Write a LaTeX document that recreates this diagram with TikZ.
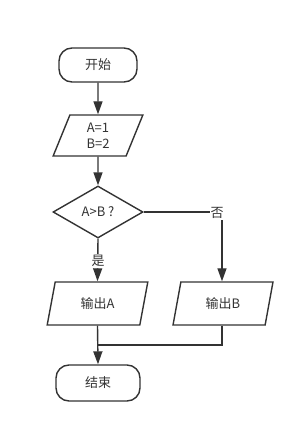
\documentclass[tikz,border=0pt]{standalone}
\usepackage{fontspec}
\setmainfont{Noto Sans CJK SC}
\usetikzlibrary{shapes.geometric,arrows.meta}
\definecolor{ln}{HTML}{333333}
\begin{document}
\begin{tikzpicture}[x=1pt,y=-1pt,
  every node/.style={font=\fontsize{13}{15}\selectfont, text=ln},
  base/.style={draw=ln, line width=1.4pt},
  term/.style={base, rectangle, rounded corners=13pt, inner sep=0pt},
  io/.style={base, trapezium, trapezium left angle=75, trapezium right angle=105,
     trapezium stretches=true, inner sep=0pt},
  dec/.style={base, diamond, inner sep=0pt, minimum width=90pt, minimum height=52pt},
  conn/.style={draw=ln, line width=1.4pt},
  arr/.style={conn, -{Triangle[width=9pt,length=13pt]}},
  lab/.style={fill=white, inner sep=1pt}
]
\useasboundingbox (0,0) rectangle (304,434);
\node[term, minimum width=78pt, minimum height=34pt] (start) at (98,65) {开始};
\node[io, minimum width=90pt, minimum height=41pt, align=center, font=\fontsize{13}{16}\selectfont] (init) at (98,135.5) {A=1\\B=2};
\node[dec] (cmp) at (98,212) {A>B ?};
\node[io, minimum width=101pt, minimum height=43pt] (outa) at (97.5,303.5) {输出A};
\node[io, minimum width=100pt, minimum height=43pt] (outb) at (223,303.5) {输出B};
\node[term, minimum width=84pt, minimum height=36pt] (stop) at (98,383) {结束};
\coordinate (corner) at (222,212);
\coordinate (join) at (98,345);

\draw[arr] (start) -- (init);
\draw[arr] (init) -- (cmp);
\draw[arr] (cmp.east) -- (corner) -- (outb.north -| corner);
\node[lab] (no) at (217,213) {否};
\draw[arr] (cmp.south) -- (outa.north);
\node[lab] (yes) at (98,261) {是};
\draw[arr] (outa.south) -- (stop.north);
\draw[conn] (outb.south -| corner) -- (join -| corner) -- (join);
\end{tikzpicture}
\end{document}
